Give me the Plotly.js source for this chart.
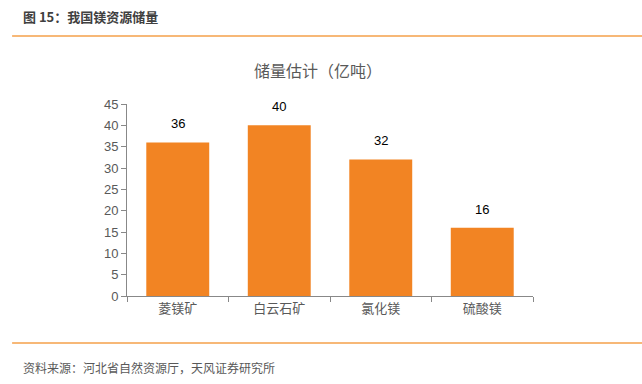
<!DOCTYPE html>
<html><head><meta charset="utf-8">
<script src="https://cdn.plot.ly/plotly-3.0.1.min.js"></script>
<style>html,body{margin:0;padding:0;background:#fff}#c{width:642px;height:384px}</style>
</head><body><div id="c"></div>
<script>
const categories = ['菱镁矿', '白云石矿', '氯化镁', '硫酸镁'];
const reserves = [36, 40, 32, 16];
const yTicks = [0, 5, 10, 15, 20, 25, 30, 35, 40, 45];
const figTitle = '图 15：我国镁资源储量';
const chartTitle = '储量估计（亿吨）';
const sourceText = '资料来源：河北省自然资源厅，天风证券研究所';

const cjk = '"Noto Sans CJK SC", "Microsoft YaHei", sans-serif';
const trace = {
  type: 'bar', x: categories, y: reserves,
  marker: {color: '#F28423'},
  hoverinfo: 'skip'
};
const valueLabels = categories.map((c, i) => ({
  x: c, y: reserves[i], xref: 'x', yref: 'y', text: String(reserves[i]),
  showarrow: false, yanchor: 'bottom', yshift: 9,
  font: {family: 'Liberation Sans, Arial', size: 13, color: '#000'}
}));
const layout = {
  width: 642, height: 384,
  margin: {l: 127, r: 109, t: 104, b: 88},
  paper_bgcolor: '#fff', plot_bgcolor: '#fff',
  showlegend: false, bargap: 0.38,
  xaxis: {
    type: 'category', showgrid: false, showline: true, linecolor: '#888', linewidth: 1,
    ticks: 'outside', tickson: 'boundaries', ticklen: 5, tickcolor: '#888',
    tickfont: {family: cjk, size: 13, color: '#595959'}, zeroline: false
  },
  yaxis: {
    range: [0, 45], tickvals: yTicks, showgrid: false, showline: true,
    linecolor: '#888', linewidth: 1, ticks: 'outside', ticklen: 5, tickcolor: '#888',
    tickfont: {family: 'Liberation Sans, Arial', size: 13, color: '#595959'}, zeroline: false
  },
  shapes: [
    {type: 'line', xref: 'paper', yref: 'paper', x0: -0.283, x1: 1.27, y0: 1.354, y1: 1.354,
     line: {color: '#F5A04A', width: 1.5}},
    {type: 'line', xref: 'paper', yref: 'paper', x0: -0.283, x1: 1.27, y0: -0.245, y1: -0.245,
     line: {color: '#F5A04A', width: 1.5}}
  ],
  annotations: valueLabels.concat([
    {text: '<b>' + figTitle + '</b>', xref: 'paper', yref: 'paper', x: -0.262, y: 1.458,
     xanchor: 'left', yanchor: 'middle', showarrow: false,
     font: {family: cjk, size: 13, color: '#404040'}},
    {text: chartTitle, xref: 'paper', yref: 'paper', x: 0.47, y: 1.175,
     xanchor: 'center', yanchor: 'middle', showarrow: false,
     font: {family: cjk, size: 16, color: '#595959'}},
    {text: sourceText, xref: 'paper', yref: 'paper', x: -0.262, y: -0.37,
     xanchor: 'left', yanchor: 'middle', showarrow: false,
     font: {family: cjk, size: 12, color: '#595959'}}
  ])
};
Plotly.newPlot('c', [trace], layout, {displayModeBar: false, staticPlot: true});
</script></body></html>
